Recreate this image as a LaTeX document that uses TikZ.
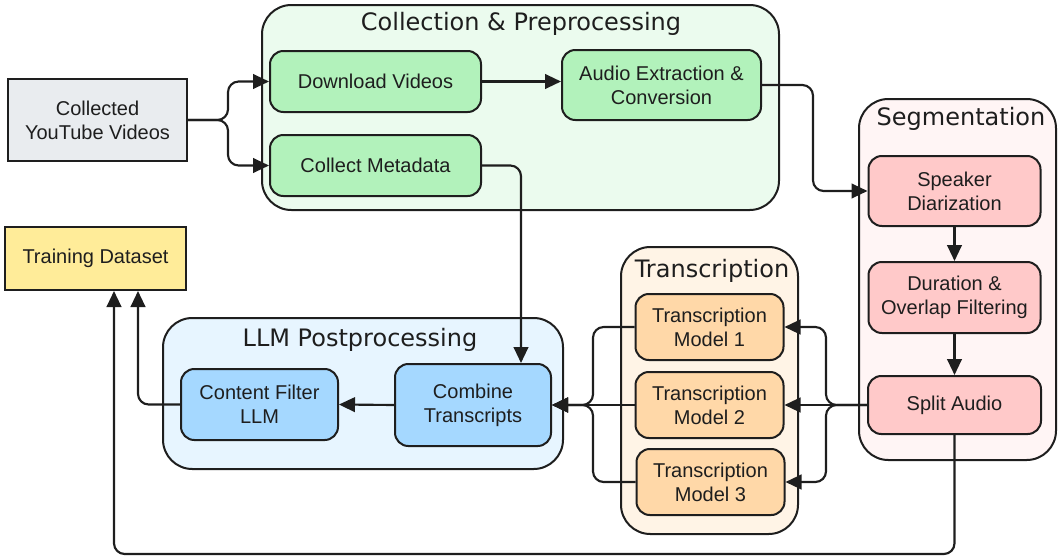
\documentclass[tikz,border=0pt]{standalone}
\usepackage{fontspec}
\setmainfont{Liberation Sans}
\newfontfamily\titlefont{DejaVu Sans}
\usetikzlibrary{arrows.meta}
\definecolor{ink}{HTML}{1E1E1E}
\definecolor{greyfill}{HTML}{E9ECEF}
\definecolor{yellowfill}{HTML}{FFEC99}
\definecolor{greenbg}{HTML}{EBFBEE}
\definecolor{greenfill}{HTML}{B2F2BB}
\definecolor{pinkbg}{HTML}{FFF5F5}
\definecolor{pinkfill}{HTML}{FFC9C9}
\definecolor{orangebg}{HTML}{FFF4E6}
\definecolor{orangefill}{HTML}{FFD8A8}
\definecolor{bluebg}{HTML}{E7F5FF}
\definecolor{bluefill}{HTML}{A5D8FF}
\tikzset{
  x=0.75pt, y=-0.75pt,
  cluster/.style={draw=ink, line width=1.5pt, rounded corners=22pt},
  ctitle/.style={font=\titlefont\fontsize{18}{21}\selectfont, text=ink, inner sep=0pt},
  proc/.style={draw=ink, line width=1.5pt, rounded corners=10pt, align=center,
    font=\fontsize{15}{18}\selectfont, text=ink, inner sep=0pt},
  sq/.style={draw=ink, line width=1.5pt, align=center,
    font=\fontsize{15}{18}\selectfont, text=ink, inner sep=0pt},
  arr/.style={draw=ink, line width=1.6pt, rounded corners=8pt,
    -{Triangle[length=12pt,width=11pt]}},
}
\begin{document}
\begin{tikzpicture}
\useasboundingbox (0,0) rectangle (1058,557);
% clusters
\draw[cluster, fill=greenbg] (262,5) rectangle (779,210);
\node[ctitle] (tcol) at (521,24) {Collection \& Preprocessing};
\draw[cluster, fill=pinkbg] (859,99) rectangle (1056,460);
\node[ctitle] (tseg) at (961,118.5) {Segmentation};
\draw[cluster, fill=orangebg] (621,247) rectangle (798,534);
\node[ctitle] (ttr) at (712,270.5) {Transcription};
\draw[cluster, fill=bluebg] (163,318) rectangle (563,469);
\node[ctitle] (tllm) at (360,339.5) {LLM Postprocessing};
% nodes
\node[sq, fill=greyfill, minimum width={179*0.75pt}, minimum height={82*0.75pt}] (cyt) at (97.5,120) {Collected\\YouTube Videos};
\node[sq, fill=yellowfill, minimum width={181*0.75pt}, minimum height={63*0.75pt}] (td) at (95.5,258.5) {Training Dataset};
\node[proc, fill=greenfill, minimum width={211*0.75pt}, minimum height={61*0.75pt}] (dl) at (375.5,81.5) {Download Videos};
\node[proc, fill=greenfill, minimum width={199*0.75pt}, minimum height={70*0.75pt}] (ae) at (661.5,85) {Audio Extraction \&\\Conversion};
\node[proc, fill=greenfill, minimum width={211*0.75pt}, minimum height={61*0.75pt}] (cm) at (375.5,165.5) {Collect Metadata};
\node[proc, fill=pinkfill, minimum width={172*0.75pt}, minimum height={70*0.75pt}] (sd) at (954.5,191) {Speaker\\Diarization};
\node[proc, fill=pinkfill, minimum width={172*0.75pt}, minimum height={71*0.75pt}] (dof) at (954.5,297.5) {Duration \&\\Overlap Filtering};
\node[proc, fill=pinkfill, minimum width={173*0.75pt}, minimum height={58*0.75pt}] (sa) at (954.5,405) {Split Audio};
\node[proc, fill=orangefill, minimum width={148*0.75pt}, minimum height={66*0.75pt}] (tm1) at (709.5,327) {Transcription\\Model 1};
\node[proc, fill=orangefill, minimum width={148*0.75pt}, minimum height={66*0.75pt}] (tm2) at (709.5,405) {Transcription\\Model 2};
\node[proc, fill=orangefill, minimum width={148*0.75pt}, minimum height={66*0.75pt}] (tm3) at (710.5,482) {Transcription\\Model 3};
\node[proc, fill=bluefill, minimum width={157*0.75pt}, minimum height={71*0.75pt}] (cf) at (259.5,404.5) {Content Filter\\LLM};
\node[proc, fill=bluefill, minimum width={156*0.75pt}, minimum height={82*0.75pt}] (comb) at (473,405) {Combine\\Transcripts};
% connectors
\coordinate (s1) at (228,120);
\draw[arr] (cyt.east) -- (s1) |- (dl.west);
\draw[arr] (cyt.east) -- (s1) |- (cm.west);
\draw[arr] (dl.east) -- (dl.east -| ae.west);
\coordinate (s2) at (813,85);
\draw[arr] (ae.east) -- (s2) |- (sd.west);
\draw[arr] (sd.south) -- (dof.north);
\draw[arr] (dof.south) -- (sa.north);
\draw[arr] (cm.east) -| ([xshift=36pt]comb.north);
\coordinate (s4) at (826,405);
\draw[arr] (sa.west) -- (s4) |- (tm1.east);
\draw[arr] (sa.west) -- (tm2.east);
\draw[arr] (sa.west) -- (s4) |- (tm3.east);
\coordinate (s5) at (593,405);
\draw[arr] (tm1.west) -| (s5) -- (comb.east);
\draw[arr] (tm2.west) -- (comb.east);
\draw[arr] (tm3.west) -| (s5) -- (comb.east);
\draw[arr] (comb.west) -- (cf.east);
\coordinate (c1) at (138,404.5);
\draw[arr] (cf.west) -- (c1) -- (c1 |- td.south);
\coordinate (c2) at (954.5,554);
\coordinate (c3) at (114,554);
\draw[arr] (sa.south) -- (c2) -- (c3) -- (c3 |- td.south);
\end{tikzpicture}
\end{document}
